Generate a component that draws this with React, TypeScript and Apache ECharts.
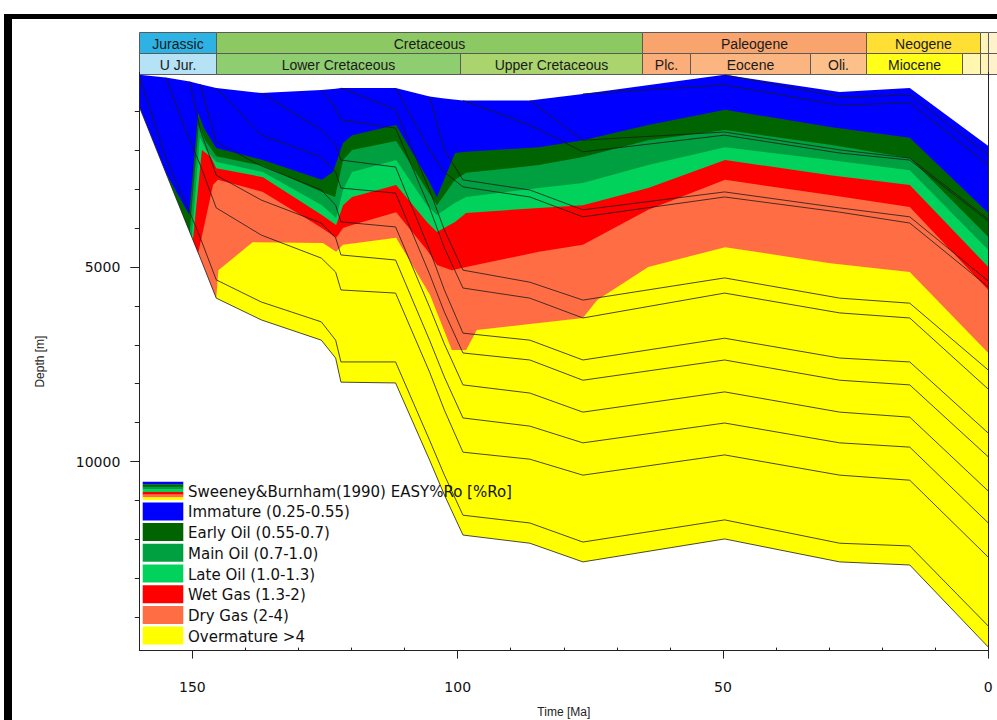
import React, { useEffect, useRef } from 'react';
import * as echarts from 'echarts';

// ---------- time grid of the burial history (Ma) ----------
const AGES = [160, 155, 150.5, 148.5, 145.5, 137, 125.7, 123, 122, 111.7, 105.3, 102.5, 99, 86.4, 76.4, 49.7, 28, 14.8, 0];

// paleo-surface and basement depth (m) at AGES
const SURFACE_DEPTH = [60, 130, 230, 300, 400, 530, 450, 420, 400, 400, 620, 670, 720, 720, 550, 60, 500, 400, 1890];
const BASEMENT_DEPTH = [880, 2580, 4100, 4770, 5800, 6360, 6880, 7340, 7960, 7980, 9960, 10860, 11890, 12100, 12580, 11990, 12580, 12660, 14770];

// horizons: index in AGES where each one was deposited, and its depth (m) from then on
const HORIZON_START = [0, 1, 2, 3, 4, 5, 6, 8, 9, 10, 12, 13, 14, 15];
const HORIZON_DEPTHS = [
  [90, 2200, 3590, 4250, 5330, 5900, 6410, 6880, 7440, 7440, 9450, 10350, 11380, 11580, 12070, 11500, 12100, 12170, 14230],
  [130, 1740, 2380, 3480, 4180, 4770, 5130, 5590, 5670, 7700, 8680, 9760, 9940, 10350, 9830, 10350, 10480, 12460],
  [230, 1480, 2640, 3280, 3870, 4250, 4690, 4820, 6880, 7830, 8880, 9090, 9520, 9010, 9520, 9630, 11580],
  [300, 1790, 2400, 3020, 3410, 3840, 3970, 6030, 6980, 8030, 8240, 8730, 8210, 8730, 8860, 10760],
  [400, 1610, 2170, 2560, 2970, 3100, 5180, 6160, 7210, 7390, 7910, 7390, 7910, 8030, 9880],
  [530, 1480, 1860, 2250, 2430, 4560, 5590, 6700, 6880, 7390, 6830, 7340, 7440, 9270],
  [450, 910, 1220, 1430, 3480, 4510, 5540, 5800, 6310, 5670, 6180, 6310, 8140],
  [400, 960, 3020, 4050, 5080, 5390, 5850, 5280, 5800, 5930, 7650],
  [400, 1990, 2560, 2940, 3200, 3710, 3200, 3590, 3870, 5510],
  [620, 1990, 2760, 3020, 3530, 3070, 3480, 3710, 5360],
  [720, 1350, 2040, 1610, 2070, 2250, 3820],
  [720, 1740, 1530, 1990, 2200, 3770],
  [550, 320, 840, 780, 2380],
  [60, 630, 580, 2120],
];

// iso-maturity boundaries (top of each zone): age (Ma) and depth (m)
const EARLY_OIL_AGE = [155, 150.6, 148.9, 147.8, 145.5, 136.7, 125.6, 123.5, 121.6, 119.9, 111.6, 105.8, 103.9, 100.5, 98.4, 84.7, 76.4, 64.1, 49.6, 29.8, 14.8, 0];
const EARLY_OIL_DEPTH = [2580, 3650, 1040, 1430, 1940, 2250, 2760, 2560, 1810, 1610, 1350, 2690, 3200, 2070, 2040, 1920, 1740, 1350, 960, 1400, 1680, 3610];
const MAIN_OIL_AGE = [150.5, 148.8, 147.6, 145.5, 136.7, 125.6, 123.1, 121.6, 119.9, 111.6, 105.8, 103.9, 100.5, 98.4, 84.7, 76.4, 64.1, 49.6, 29.8, 14.8, 0];
const MAIN_OIL_DEPTH = [4100, 1350, 1740, 2150, 2400, 3070, 3200, 2250, 1990, 1760, 3020, 3410, 2760, 2580, 2380, 2170, 1740, 1480, 1860, 2200, 4230];
const LATE_OIL_AGE = [150.1, 148.6, 147.4, 145.5, 136.7, 125.6, 122.9, 121.6, 119.9, 111.6, 105.8, 103.9, 100.5, 98.4, 84.7, 76.4, 64.1, 49.6, 29.8, 14.8, 0];
const LATE_OIL_DEPTH = [4230, 1660, 1990, 2300, 2560, 3410, 3740, 3020, 2560, 2250, 3410, 3660, 3350, 3200, 2970, 2840, 2380, 1920, 2250, 2510, 4560];
const WET_GAS_AGE = [149.9, 148.2, 146.5, 145.5, 136.7, 125.6, 122.9, 121.6, 119.9, 111.6, 105.8, 103.9, 100.5, 98.4, 84.7, 76.4, 64.1, 49.6, 29.8, 14.8, 0];
const WET_GAS_DEPTH = [4310, 1990, 2170, 2460, 2690, 3660, 3920, 3410, 3200, 2890, 3840, 4100, 3840, 3610, 3480, 3410, 2970, 2250, 2640, 2890, 5000];
const DRY_GAS_AGE = [148.9, 146.1, 145.2, 136.7, 125.6, 122.9, 121.6, 119.9, 111.6, 105.8, 103.9, 101.1, 98.4, 84.7, 76.4, 64.1, 49.6, 29.8, 14.8, 0];
const DRY_GAS_DEPTH = [4640, 2890, 2760, 3070, 4000, 4250, 4000, 3920, 3590, 4560, 4950, 5080, 5000, 4610, 4430, 3530, 2760, 3150, 3460, 5590];
const OVERMATURE_AGE = [145.5, 145.1, 138.6, 125.4, 122.9, 121.6, 111.6, 105.2, 101.1, 98.4, 96.4, 84.7, 76.4, 73.7, 64.1, 49.6, 29.8, 14.8, 0];
const OVERMATURE_DEPTH = [5800, 5080, 4360, 4380, 4610, 4430, 4250, 5720, 7130, 7130, 6620, 6440, 6310, 5850, 5000, 4490, 4900, 5130, 7210];

const ZONE_NAMES = ['Immature (0.25-0.55)', 'Early Oil (0.55-0.7)', 'Main Oil (0.7-1.0)', 'Late Oil (1.0-1.3)', 'Wet Gas (1.3-2)', 'Dry Gas (2-4)', 'Overmature >4'];
const ZONE_COLORS = ['#0000FF', '#006400', '#00A040', '#00D25C', '#FF0000', '#FF6D45', '#FFFF00'];
const LEGEND_TITLE = 'Sweeney&Burnham(1990) EASY%Ro [%Ro]';

// geologic time scale bar
const PERIOD_NAMES = ['Jurassic', 'Cretaceous', 'Paleogene', 'Neogene', '', ''];
const PERIOD_START = [160, 145.5, 65.3, 23, 1.6, 0];
const PERIOD_END = [145.5, 65.3, 23, 1.6, 0, -1.7];
const PERIOD_COLORS = ['#2DB3E3', '#8CC963', '#F9A46D', '#FFDF33', '#FFF3B8', '#FFF1CC'];
const EPOCH_NAMES = ['U Jur.', 'Lower Cretaceous', 'Upper Cretaceous', 'Plc.', 'Eocene', 'Oli.', 'Miocene', '', '', ''];
const EPOCH_START = [160, 145.5, 99.6, 65.3, 56.2, 33.6, 23, 5, 1.6, 0];
const EPOCH_END = [145.5, 99.6, 65.3, 56.2, 33.6, 23, 5, 1.6, 0, -1.7];
const EPOCH_COLORS = ['#B5E2F4', '#8ECD70', '#A9D46E', '#FBAE79', '#FBB580', '#FCC08B', '#FFFF1A', '#FFF6B0', '#FFF3B8', '#FFF1CC'];

// axis ticks
const X_MAJOR = [150, 100, 50, 0];
const X_MINOR = [140, 130, 120, 110, 90, 80, 70, 60, 40, 30, 20, 10];
const Y_MAJOR = [5000, 10000];
const Y_MINOR = [1000, 2000, 3000, 4000, 6000, 7000, 8000, 9000, 11000, 12000, 13000, 14000];

const AGE_MIN = 0;
const AGE_MAX = 160;
const DEPTH_MAX = 14860;

function pair(ages: number[], depths: number[]) {
  return ages.map((a, i) => [a, depths[i]]);
}

function fillSeries(name: string, data: number[][], color: string) {
  return {
    type: 'line',
    name,
    xAxisIndex: 0,
    yAxisIndex: 0,
    data,
    symbol: 'none',
    showSymbol: false,
    silent: true,
    lineStyle: { width: 0, opacity: 0 },
    areaStyle: { color, opacity: 1, origin: 'end' },
    z: 2,
  };
}

function lineSeries(data: number[][]) {
  return {
    type: 'line',
    xAxisIndex: 0,
    yAxisIndex: 0,
    data,
    symbol: 'none',
    showSymbol: false,
    silent: true,
    lineStyle: { color: '#1a1a1a', width: 0.8 },
    z: 3,
  };
}

function buildOption() {
  const zoneBounds = [
    pair(EARLY_OIL_AGE, EARLY_OIL_DEPTH),
    pair(MAIN_OIL_AGE, MAIN_OIL_DEPTH),
    pair(LATE_OIL_AGE, LATE_OIL_DEPTH),
    pair(WET_GAS_AGE, WET_GAS_DEPTH),
    pair(DRY_GAS_AGE, DRY_GAS_DEPTH),
    pair(OVERMATURE_AGE, OVERMATURE_DEPTH),
  ];

  const series: any[] = [];
  series.push(fillSeries('Immature', pair(AGES, SURFACE_DEPTH), ZONE_COLORS[0]));
  zoneBounds.forEach((d, i) => series.push(fillSeries(ZONE_NAMES[i + 1], d, ZONE_COLORS[i + 1])));
  series.push(fillSeries('below basement', pair(AGES, BASEMENT_DEPTH), '#FFFFFF'));
  HORIZON_DEPTHS.forEach((d, k) => series.push(lineSeries(pair(AGES.slice(HORIZON_START[k]), d))));
  series.push(lineSeries(pair(AGES, BASEMENT_DEPTH)));

  // time scale cells
  const cells: { s: number; e: number; row: number; name: string; color: string }[] = [];
  PERIOD_NAMES.forEach((n, i) => cells.push({ s: PERIOD_START[i], e: PERIOD_END[i], row: 0, name: n, color: PERIOD_COLORS[i] }));
  EPOCH_NAMES.forEach((n, i) => cells.push({ s: EPOCH_START[i], e: EPOCH_END[i], row: 1, name: n, color: EPOCH_COLORS[i] }));

  series.push({
    type: 'custom',
    xAxisIndex: 2,
    yAxisIndex: 3,
    clip: false,
    silent: true,
    encode: { x: [0, 1], y: 2 },
    data: cells.map((c) => [c.s, c.e, c.row]),
    renderItem: (params: any, api: any) => {
      const c = cells[params.dataIndex];
      const p1 = api.coord([c.s, 2 - c.row]);
      const p2 = api.coord([c.e, 1 - c.row]);
      const x = Math.round(Math.min(p1[0], p2[0])) + 0.5;
      const y = Math.round(Math.min(p1[1], p2[1])) + 0.5;
      const w = Math.round(Math.abs(p2[0] - p1[0]));
      const h = Math.round(Math.abs(p2[1] - p1[1]));
      return {
        type: 'group',
        children: [
          { type: 'rect', shape: { x, y, width: w, height: h }, style: { fill: c.color, stroke: '#5a5a5a', lineWidth: 1 } },
          {
            type: 'text',
            style: {
              text: c.name,
              x: x + w / 2,
              y: y + h / 2 + 1,
              align: 'center',
              verticalAlign: 'middle',
              font: '14px "Liberation Sans", Arial, sans-serif',
              fill: '#1a1a1a',
            },
          },
        ],
      };
    },
  });

  // legend + frame graphics
  const graphics: any[] = [];
  graphics.push({ type: 'rect', z: 100, silent: true, shape: { x: 4, y: 14, width: 8, height: 706 }, style: { fill: '#000' } });
  graphics.push({ type: 'rect', z: 100, silent: true, shape: { x: 4, y: 14, width: 993, height: 5 }, style: { fill: '#000' } });

  const LX = 142.7;
  const LY = 481.7;
  const STEP = 20.7;
  const BW = 40.6;
  const BH = 18;
  const stripeH = BH / ZONE_COLORS.length;
  ZONE_COLORS.forEach((col, i) => {
    graphics.push({ type: 'rect', z: 100, silent: true, shape: { x: LX, y: LY + i * stripeH, width: BW, height: stripeH + 0.3 }, style: { fill: col } });
  });
  graphics.push({
    type: 'text', z: 100, silent: true,
    style: { text: LEGEND_TITLE, x: 188, y: LY + BH / 2 + 1, verticalAlign: 'middle', font: '15px "DejaVu Sans", sans-serif', fill: '#111' },
  });
  ZONE_NAMES.forEach((n, i) => {
    const y0 = LY + (i + 1) * STEP;
    graphics.push({ type: 'rect', z: 100, silent: true, shape: { x: LX, y: y0, width: BW, height: BH }, style: { fill: ZONE_COLORS[i] } });
    graphics.push({
      type: 'text', z: 100, silent: true,
      style: { text: n, x: 188, y: y0 + BH / 2 + 1, verticalAlign: 'middle', font: '15px "DejaVu Sans", sans-serif', fill: '#111' },
    });
  });

  const axisColor = '#222';
  const labelFont = { fontFamily: 'DejaVu Sans', fontSize: 14, color: '#111' };

  return {
    animation: false,
    backgroundColor: '#fff',
    textStyle: { fontFamily: 'DejaVu Sans' },
    grid: [
      { left: 139.3, right: 8.7, top: 72.5, bottom: 69.4, containLabel: false, outerBoundsMode: 'none' },
      { left: 139.3, right: 8.7, top: 32.3, height: 41, containLabel: false, outerBoundsMode: 'none' },
    ],
    xAxis: [
      {
        type: 'value', gridIndex: 0, min: AGE_MIN, max: AGE_MAX, inverse: true, position: 'bottom', z: 50,
        axisLine: { show: true, onZero: false, lineStyle: { color: axisColor, width: 1 } },
        axisTick: { show: true, customValues: X_MAJOR, length: 8, inside: false, lineStyle: { color: axisColor } },
        axisLabel: { show: true, customValues: X_MAJOR, margin: 29, formatter: (v: number) => String(v), ...labelFont },
        splitLine: { show: false },
        name: 'Time [Ma]', nameLocation: 'middle', nameGap: 55,
        nameTextStyle: { fontFamily: 'Liberation Sans', fontSize: 12, color: '#222' },
      },
      {
        type: 'value', gridIndex: 0, min: AGE_MIN, max: AGE_MAX, inverse: true, position: 'bottom', z: 50,
        axisLine: { show: false, onZero: false },
        axisTick: { show: true, customValues: X_MINOR, length: 3, inside: true, lineStyle: { color: axisColor } },
        axisLabel: { show: false },
        splitLine: { show: false },
      },
      {
        type: 'value', gridIndex: 1, min: AGE_MIN, max: AGE_MAX, inverse: true, show: false,
        splitLine: { show: false },
      },
    ],
    yAxis: [
      {
        type: 'value', gridIndex: 0, min: 0, max: DEPTH_MAX, inverse: true, position: 'left', z: 50,
        axisLine: { show: true, onZero: false, lineStyle: { color: axisColor, width: 1 } },
        axisTick: { show: true, customValues: Y_MAJOR, length: 9, inside: false, lineStyle: { color: axisColor } },
        axisLabel: { show: true, customValues: Y_MAJOR, margin: 19, formatter: (v: number) => String(v), ...labelFont },
        splitLine: { show: false },
        name: 'Depth [m]', nameLocation: 'middle', nameGap: 93, nameRotate: 90,
        nameTextStyle: { fontFamily: 'Liberation Sans', fontSize: 12, color: '#222' },
      },
      {
        type: 'value', gridIndex: 0, min: 0, max: DEPTH_MAX, inverse: true, position: 'left', z: 50,
        axisLine: { show: false, onZero: false },
        axisTick: { show: true, customValues: Y_MINOR, length: 4.5, inside: false, lineStyle: { color: axisColor } },
        axisLabel: { show: false },
        splitLine: { show: false },
      },
      {
        type: 'value', gridIndex: 0, min: 0, max: DEPTH_MAX, inverse: true, position: 'right', z: 50,
        axisLine: { show: true, onZero: false, lineStyle: { color: axisColor, width: 1 } },
        axisTick: { show: false },
        axisLabel: { show: false },
        splitLine: { show: false },
      },
      {
        type: 'value', gridIndex: 1, min: 0, max: 2, show: false,
        splitLine: { show: false },
      },
    ],
    series,
    graphic: { elements: graphics },
  };
}

export default function App() {
  const ref = useRef<HTMLDivElement>(null);
  useEffect(() => {
    if (!ref.current) return;
    const chart = echarts.init(ref.current, null, { renderer: 'svg' });
    chart.setOption(buildOption() as any);
    return () => {
      chart.dispose();
    };
  }, []);
  return (
    <div
      ref={ref}
      style={{ position: 'fixed', left: 0, top: 0, width: 997, height: 720, background: '#fff' }}
    />
  );
}
